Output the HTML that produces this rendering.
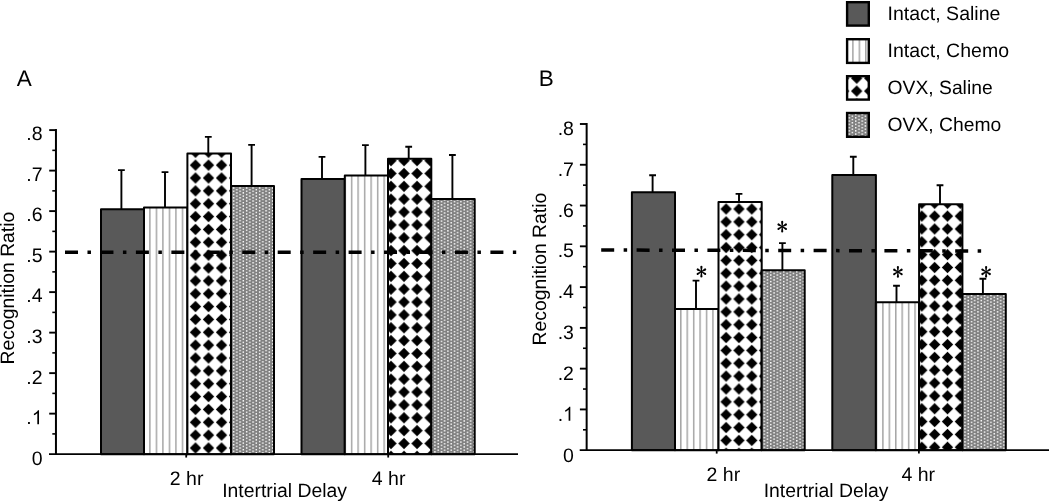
<!DOCTYPE html>
<html><head><meta charset="utf-8"><title>Recognition Ratio</title>
<style>html,body{margin:0;padding:0;background:#fff;}svg{display:block;}text{font-family:"Liberation Sans",sans-serif;fill:#000;text-rendering:geometricPrecision;}.t{font-size:19.5px;}.ab{font-size:22.5px;}.ti{font-size:19.35px;}.ast{font-family:"Liberation Serif",serif;}</style></head><body>
<svg width="1050" height="503" viewBox="0 0 1050 503">
<rect x="0" y="0" width="1050" height="503" fill="#fff"/>
<defs><pattern id="p1" patternUnits="userSpaceOnUse" x="149.15" y="0" width="6.510" height="20"><rect x="0" y="0" width="6.510" height="20" fill="#fff"/><rect x="0" y="0" width="1.5" height="20" fill="#a6a6a6"/></pattern><pattern id="p2" patternUnits="userSpaceOnUse" x="188.99" y="145.87" width="13.030" height="12.857"><rect x="0" y="0" width="13.030" height="12.857" fill="#fff"/><polygon points="6.51,0.83 12.21,6.43 6.51,12.03 0.81,6.43" fill="#000"/></pattern><pattern id="p3" patternUnits="userSpaceOnUse" x="232.88" y="187.28" width="6.500" height="3.250"><rect x="0" y="0" width="6.500" height="3.250" fill="#808080"/><rect x="0" y="0" width="1.45" height="1.45" fill="#fff"/><rect x="3.250" y="1.625" width="1.45" height="1.45" fill="#fff"/></pattern><pattern id="p4" patternUnits="userSpaceOnUse" x="350.85" y="0" width="6.510" height="20"><rect x="0" y="0" width="6.510" height="20" fill="#fff"/><rect x="0" y="0" width="1.5" height="20" fill="#a6a6a6"/></pattern><pattern id="p5" patternUnits="userSpaceOnUse" x="384.49" y="154.22" width="13.030" height="12.857"><rect x="0" y="0" width="13.030" height="12.857" fill="#fff"/><polygon points="6.51,0.83 12.21,6.43 6.51,12.03 0.81,6.43" fill="#000"/></pattern><pattern id="p6" patternUnits="userSpaceOnUse" x="434.22" y="200.88" width="6.500" height="3.250"><rect x="0" y="0" width="6.500" height="3.250" fill="#808080"/><rect x="0" y="0" width="1.45" height="1.45" fill="#fff"/><rect x="3.250" y="1.625" width="1.45" height="1.45" fill="#fff"/></pattern><pattern id="p7" patternUnits="userSpaceOnUse" x="680.05" y="0" width="6.430" height="20"><rect x="0" y="0" width="6.430" height="20" fill="#fff"/><rect x="0" y="0" width="1.5" height="20" fill="#a6a6a6"/></pattern><pattern id="p8" patternUnits="userSpaceOnUse" x="719.68" y="202.57" width="12.850" height="12.857"><rect x="0" y="0" width="12.850" height="12.857" fill="#fff"/><polygon points="6.42,0.83 12.12,6.43 6.42,12.03 0.72,6.43" fill="#000"/></pattern><pattern id="p9" patternUnits="userSpaceOnUse" x="763.57" y="271.07" width="6.500" height="3.250"><rect x="0" y="0" width="6.500" height="3.250" fill="#808080"/><rect x="0" y="0" width="1.45" height="1.45" fill="#fff"/><rect x="3.250" y="1.625" width="1.45" height="1.45" fill="#fff"/></pattern><pattern id="p10" patternUnits="userSpaceOnUse" x="882.15" y="0" width="6.430" height="20"><rect x="0" y="0" width="6.430" height="20" fill="#fff"/><rect x="0" y="0" width="1.5" height="20" fill="#a6a6a6"/></pattern><pattern id="p11" patternUnits="userSpaceOnUse" x="915.38" y="196.88" width="12.850" height="12.840"><rect x="0" y="0" width="12.850" height="12.840" fill="#fff"/><polygon points="6.42,0.82 12.12,6.42 6.42,12.02 0.72,6.42" fill="#000"/></pattern><pattern id="p12" patternUnits="userSpaceOnUse" x="964.27" y="294.88" width="6.500" height="3.250"><rect x="0" y="0" width="6.500" height="3.250" fill="#808080"/><rect x="0" y="0" width="1.45" height="1.45" fill="#fff"/><rect x="3.250" y="1.625" width="1.45" height="1.45" fill="#fff"/></pattern><pattern id="p13" patternUnits="userSpaceOnUse" x="852.15" y="0" width="6.450" height="20"><rect x="0" y="0" width="6.450" height="20" fill="#fff"/><rect x="0" y="0" width="1.5" height="20" fill="#a6a6a6"/></pattern><pattern id="p14" patternUnits="userSpaceOnUse" x="850.19" y="84.65" width="13.030" height="12.900"><rect x="0" y="0" width="13.030" height="12.900" fill="#fff"/><polygon points="6.51,0.85 12.21,6.45 6.51,12.05 0.81,6.45" fill="#000"/></pattern><pattern id="p15" patternUnits="userSpaceOnUse" x="848.48" y="113.88" width="6.500" height="3.250"><rect x="0" y="0" width="6.500" height="3.250" fill="#808080"/><rect x="0" y="0" width="1.45" height="1.45" fill="#fff"/><rect x="3.250" y="1.625" width="1.45" height="1.45" fill="#fff"/></pattern></defs>
<g opacity="0.999">
<rect x="101.00" y="209.20" width="43.00" height="244.95" fill="#595959" stroke="#000" stroke-width="2.00" stroke-linejoin="round"/>
<rect x="144.00" y="207.60" width="43.40" height="246.55" fill="url(#p1)" stroke="#000" stroke-width="2.00" stroke-linejoin="round"/>
<rect x="187.40" y="153.60" width="43.60" height="300.55" fill="url(#p2)" stroke="#000" stroke-width="2.00" stroke-linejoin="round"/>
<rect x="231.00" y="186.00" width="43.00" height="268.15" fill="url(#p3)" stroke="#000" stroke-width="2.00" stroke-linejoin="round"/>
<rect x="301.50" y="179.10" width="43.30" height="275.05" fill="#595959" stroke="#000" stroke-width="2.00" stroke-linejoin="round"/>
<rect x="344.80" y="175.60" width="43.20" height="278.55" fill="url(#p4)" stroke="#000" stroke-width="2.00" stroke-linejoin="round"/>
<rect x="388.00" y="158.70" width="43.30" height="295.45" fill="url(#p5)" stroke="#000" stroke-width="2.00" stroke-linejoin="round"/>
<rect x="431.30" y="199.00" width="43.40" height="255.15" fill="url(#p6)" stroke="#000" stroke-width="2.00" stroke-linejoin="round"/>
<line x1="65.00" y1="252.20" x2="516.20" y2="252.20" stroke="#000" stroke-width="3.5" stroke-dasharray="13 9.475 3.5 9.475"/>
<path d="M121.40 209.20 V170.10 M118.00 170.10 H124.80" stroke="#000" stroke-width="1.90" fill="none"/>
<path d="M165.00 207.60 V172.10 M161.60 172.10 H168.40" stroke="#000" stroke-width="1.90" fill="none"/>
<path d="M208.30 153.60 V136.90 M204.90 136.90 H211.70" stroke="#000" stroke-width="1.90" fill="none"/>
<path d="M251.60 186.00 V144.90 M248.20 144.90 H255.00" stroke="#000" stroke-width="1.90" fill="none"/>
<path d="M322.00 179.10 V156.90 M318.60 156.90 H325.40" stroke="#000" stroke-width="1.90" fill="none"/>
<path d="M365.40 175.60 V145.10 M362.00 145.10 H368.80" stroke="#000" stroke-width="1.90" fill="none"/>
<path d="M408.70 158.70 V146.80 M405.30 146.80 H412.10" stroke="#000" stroke-width="1.90" fill="none"/>
<path d="M452.40 199.00 V155.00 M449.00 155.00 H455.80" stroke="#000" stroke-width="1.90" fill="none"/>
<path d="M55.95 129.10 V455.05" stroke="#000" stroke-width="2.0" fill="none"/>
<path d="M49.00 454.15 H518.00" stroke="#000" stroke-width="1.8" fill="none"/>
<text class="t" x="42.60" y="464.75" text-anchor="end">0</text>
<path d="M52.30 433.90 H56.00" stroke="#000" stroke-width="1.6"/>
<path d="M49.20 413.64 H56.00" stroke="#000" stroke-width="1.9"/>
<text class="t" x="31.76" y="424.18" text-anchor="end">.</text>
<path transform="translate(31.76 424.18) scale(0.00952 -0.00952)" fill="#000" d="M763 0H583V1147Q518 1085 412.5 1023Q307 961 223 930V1104Q374 1175 487 1276Q600 1377 647 1472H763Z"/>
<path d="M52.30 393.39 H56.00" stroke="#000" stroke-width="1.6"/>
<path d="M49.20 373.14 H56.00" stroke="#000" stroke-width="1.9"/>
<text class="t" x="42.60" y="383.62" text-anchor="end">.2</text>
<path d="M52.30 352.88 H56.00" stroke="#000" stroke-width="1.6"/>
<path d="M49.20 332.63 H56.00" stroke="#000" stroke-width="1.9"/>
<text class="t" x="42.60" y="343.05" text-anchor="end">.3</text>
<path d="M52.30 312.38 H56.00" stroke="#000" stroke-width="1.6"/>
<path d="M49.20 292.12 H56.00" stroke="#000" stroke-width="1.9"/>
<text class="t" x="42.60" y="302.49" text-anchor="end">.4</text>
<path d="M52.30 271.87 H56.00" stroke="#000" stroke-width="1.6"/>
<path d="M49.20 251.62 H56.00" stroke="#000" stroke-width="1.9"/>
<text class="t" x="42.60" y="261.92" text-anchor="end">.5</text>
<path d="M52.30 231.37 H56.00" stroke="#000" stroke-width="1.6"/>
<path d="M49.20 211.11 H56.00" stroke="#000" stroke-width="1.9"/>
<text class="t" x="42.60" y="221.35" text-anchor="end">.6</text>
<path d="M52.30 190.86 H56.00" stroke="#000" stroke-width="1.6"/>
<path d="M49.20 170.61 H56.00" stroke="#000" stroke-width="1.9"/>
<text class="t" x="42.60" y="180.79" text-anchor="end">.7</text>
<path d="M52.30 150.35 H56.00" stroke="#000" stroke-width="1.6"/>
<path d="M49.20 130.10 H56.00" stroke="#000" stroke-width="1.9"/>
<text class="t" x="42.60" y="140.22" text-anchor="end">.8</text>
<path d="M186.20 454.15 V457.55" stroke="#000" stroke-width="1.8"/>
<text class="t" x="186.60" y="485.20" text-anchor="middle">2 hr</text>
<path d="M388.20 454.15 V457.55" stroke="#000" stroke-width="1.8"/>
<text class="t" x="388.60" y="485.20" text-anchor="middle">4 hr</text>
<text class="ti" transform="translate(14.40 364.40) rotate(-90)">Recognition Ratio</text>
<text class="ab" x="16.80" y="86.00" text-anchor="start">A</text>
<text class="ti" x="284.60" y="497.40" text-anchor="middle">Intertrial Delay</text>
<rect x="631.90" y="192.30" width="43.10" height="257.90" fill="#595959" stroke="#000" stroke-width="2.00" stroke-linejoin="round"/>
<rect x="675.00" y="308.90" width="43.50" height="141.30" fill="url(#p7)" stroke="#000" stroke-width="2.00" stroke-linejoin="round"/>
<rect x="718.50" y="202.00" width="43.20" height="248.20" fill="url(#p8)" stroke="#000" stroke-width="2.00" stroke-linejoin="round"/>
<rect x="761.70" y="270.20" width="43.00" height="180.00" fill="url(#p9)" stroke="#000" stroke-width="2.00" stroke-linejoin="round"/>
<rect x="832.30" y="175.00" width="43.60" height="275.20" fill="#595959" stroke="#000" stroke-width="2.00" stroke-linejoin="round"/>
<rect x="875.90" y="302.20" width="43.20" height="148.00" fill="url(#p10)" stroke="#000" stroke-width="2.00" stroke-linejoin="round"/>
<rect x="919.10" y="204.30" width="43.30" height="245.90" fill="url(#p11)" stroke="#000" stroke-width="2.00" stroke-linejoin="round"/>
<rect x="962.40" y="294.00" width="43.40" height="156.20" fill="url(#p12)" stroke="#000" stroke-width="2.00" stroke-linejoin="round"/>
<line x1="601.20" y1="250.00" x2="981.90" y2="251.00" stroke="#000" stroke-width="3.5" stroke-dasharray="13 9.450 3.5 9.450"/>
<path d="M652.60 192.30 V175.20 M649.20 175.20 H656.00" stroke="#000" stroke-width="1.90" fill="none"/>
<path d="M696.00 308.90 V280.60 M692.60 280.60 H699.40" stroke="#000" stroke-width="1.90" fill="none"/>
<path d="M739.00 202.00 V193.90 M735.60 193.90 H742.40" stroke="#000" stroke-width="1.90" fill="none"/>
<path d="M782.40 270.20 V243.10 M779.00 243.10 H785.80" stroke="#000" stroke-width="1.90" fill="none"/>
<path d="M853.30 175.00 V156.70 M849.90 156.70 H856.70" stroke="#000" stroke-width="1.90" fill="none"/>
<path d="M896.50 302.20 V285.80 M893.10 285.80 H899.90" stroke="#000" stroke-width="1.90" fill="none"/>
<path d="M940.00 204.30 V185.20 M936.60 185.20 H943.40" stroke="#000" stroke-width="1.90" fill="none"/>
<path d="M982.90 294.00 V278.70 M979.50 278.70 H986.30" stroke="#000" stroke-width="1.90" fill="none"/>
<path d="M586.65 123.00 V451.10" stroke="#000" stroke-width="2.0" fill="none"/>
<path d="M579.70 450.20 H1049.00" stroke="#000" stroke-width="1.8" fill="none"/>
<text class="t" x="573.90" y="461.50" text-anchor="end">0</text>
<path d="M583.00 429.81 H586.70" stroke="#000" stroke-width="1.6"/>
<path d="M579.90 409.43 H586.70" stroke="#000" stroke-width="1.9"/>
<text class="t" x="563.06" y="420.68" text-anchor="end">.</text>
<path transform="translate(563.06 420.68) scale(0.00952 -0.00952)" fill="#000" d="M763 0H583V1147Q518 1085 412.5 1023Q307 961 223 930V1104Q374 1175 487 1276Q600 1377 647 1472H763Z"/>
<path d="M583.00 389.04 H586.70" stroke="#000" stroke-width="1.6"/>
<path d="M579.90 368.65 H586.70" stroke="#000" stroke-width="1.9"/>
<text class="t" x="573.90" y="379.85" text-anchor="end">.2</text>
<path d="M583.00 348.26 H586.70" stroke="#000" stroke-width="1.6"/>
<path d="M579.90 327.88 H586.70" stroke="#000" stroke-width="1.9"/>
<text class="t" x="573.90" y="339.03" text-anchor="end">.3</text>
<path d="M583.00 307.49 H586.70" stroke="#000" stroke-width="1.6"/>
<path d="M579.90 287.10 H586.70" stroke="#000" stroke-width="1.9"/>
<text class="t" x="573.90" y="298.20" text-anchor="end">.4</text>
<path d="M583.00 266.71 H586.70" stroke="#000" stroke-width="1.6"/>
<path d="M579.90 246.32 H586.70" stroke="#000" stroke-width="1.9"/>
<text class="t" x="573.90" y="257.38" text-anchor="end">.5</text>
<path d="M583.00 225.94 H586.70" stroke="#000" stroke-width="1.6"/>
<path d="M579.90 205.55 H586.70" stroke="#000" stroke-width="1.9"/>
<text class="t" x="573.90" y="216.55" text-anchor="end">.6</text>
<path d="M583.00 185.16 H586.70" stroke="#000" stroke-width="1.6"/>
<path d="M579.90 164.77 H586.70" stroke="#000" stroke-width="1.9"/>
<text class="t" x="573.90" y="175.72" text-anchor="end">.7</text>
<path d="M583.00 144.39 H586.70" stroke="#000" stroke-width="1.6"/>
<path d="M579.90 124.00 H586.70" stroke="#000" stroke-width="1.9"/>
<text class="t" x="573.90" y="134.90" text-anchor="end">.8</text>
<path d="M716.70 450.20 V453.60" stroke="#000" stroke-width="1.8"/>
<text class="t" x="723.40" y="481.20" text-anchor="middle">2 hr</text>
<path d="M918.90 450.20 V453.60" stroke="#000" stroke-width="1.8"/>
<text class="t" x="918.20" y="481.20" text-anchor="middle">4 hr</text>
<text class="ti" transform="translate(545.80 345.50) rotate(-90)">Recognition Ratio</text>
<text class="ab" x="538.70" y="86.00" text-anchor="start">B</text>
<text class="ti" x="826.10" y="497.20" text-anchor="middle">Intertrial Delay</text>
<path transform="translate(701.40 271.70) rotate(0.00)" d="M-0.42 0 L0.42 0 L1.08 4.82 A1.08 1.08 0 1 1 -1.08 4.82 Z" fill="#000"/><path transform="translate(701.40 271.70) rotate(180.00)" d="M-0.42 0 L0.42 0 L1.08 4.82 A1.08 1.08 0 1 1 -1.08 4.82 Z" fill="#000"/><path transform="translate(701.40 271.70) rotate(59.50)" d="M-0.42 0 L0.42 0 L1.08 4.32 A1.08 1.08 0 1 1 -1.08 4.32 Z" fill="#000"/><path transform="translate(701.40 271.70) rotate(-59.50)" d="M-0.42 0 L0.42 0 L1.08 4.32 A1.08 1.08 0 1 1 -1.08 4.32 Z" fill="#000"/><path transform="translate(701.40 271.70) rotate(120.50)" d="M-0.42 0 L0.42 0 L1.08 4.32 A1.08 1.08 0 1 1 -1.08 4.32 Z" fill="#000"/><path transform="translate(701.40 271.70) rotate(-120.50)" d="M-0.42 0 L0.42 0 L1.08 4.32 A1.08 1.08 0 1 1 -1.08 4.32 Z" fill="#000"/><circle cx="701.40" cy="271.70" r="0.95" fill="#000"/>
<path transform="translate(782.20 226.70) rotate(0.00)" d="M-0.42 0 L0.42 0 L1.08 4.82 A1.08 1.08 0 1 1 -1.08 4.82 Z" fill="#000"/><path transform="translate(782.20 226.70) rotate(180.00)" d="M-0.42 0 L0.42 0 L1.08 4.82 A1.08 1.08 0 1 1 -1.08 4.82 Z" fill="#000"/><path transform="translate(782.20 226.70) rotate(59.50)" d="M-0.42 0 L0.42 0 L1.08 4.32 A1.08 1.08 0 1 1 -1.08 4.32 Z" fill="#000"/><path transform="translate(782.20 226.70) rotate(-59.50)" d="M-0.42 0 L0.42 0 L1.08 4.32 A1.08 1.08 0 1 1 -1.08 4.32 Z" fill="#000"/><path transform="translate(782.20 226.70) rotate(120.50)" d="M-0.42 0 L0.42 0 L1.08 4.32 A1.08 1.08 0 1 1 -1.08 4.32 Z" fill="#000"/><path transform="translate(782.20 226.70) rotate(-120.50)" d="M-0.42 0 L0.42 0 L1.08 4.32 A1.08 1.08 0 1 1 -1.08 4.32 Z" fill="#000"/><circle cx="782.20" cy="226.70" r="0.95" fill="#000"/>
<path transform="translate(897.90 271.90) rotate(0.00)" d="M-0.42 0 L0.42 0 L1.08 4.82 A1.08 1.08 0 1 1 -1.08 4.82 Z" fill="#000"/><path transform="translate(897.90 271.90) rotate(180.00)" d="M-0.42 0 L0.42 0 L1.08 4.82 A1.08 1.08 0 1 1 -1.08 4.82 Z" fill="#000"/><path transform="translate(897.90 271.90) rotate(59.50)" d="M-0.42 0 L0.42 0 L1.08 4.32 A1.08 1.08 0 1 1 -1.08 4.32 Z" fill="#000"/><path transform="translate(897.90 271.90) rotate(-59.50)" d="M-0.42 0 L0.42 0 L1.08 4.32 A1.08 1.08 0 1 1 -1.08 4.32 Z" fill="#000"/><path transform="translate(897.90 271.90) rotate(120.50)" d="M-0.42 0 L0.42 0 L1.08 4.32 A1.08 1.08 0 1 1 -1.08 4.32 Z" fill="#000"/><path transform="translate(897.90 271.90) rotate(-120.50)" d="M-0.42 0 L0.42 0 L1.08 4.32 A1.08 1.08 0 1 1 -1.08 4.32 Z" fill="#000"/><circle cx="897.90" cy="271.90" r="0.95" fill="#000"/>
<path transform="translate(986.10 271.80) rotate(0.00)" d="M-0.42 0 L0.42 0 L1.08 4.82 A1.08 1.08 0 1 1 -1.08 4.82 Z" fill="#000"/><path transform="translate(986.10 271.80) rotate(180.00)" d="M-0.42 0 L0.42 0 L1.08 4.82 A1.08 1.08 0 1 1 -1.08 4.82 Z" fill="#000"/><path transform="translate(986.10 271.80) rotate(59.50)" d="M-0.42 0 L0.42 0 L1.08 4.32 A1.08 1.08 0 1 1 -1.08 4.32 Z" fill="#000"/><path transform="translate(986.10 271.80) rotate(-59.50)" d="M-0.42 0 L0.42 0 L1.08 4.32 A1.08 1.08 0 1 1 -1.08 4.32 Z" fill="#000"/><path transform="translate(986.10 271.80) rotate(120.50)" d="M-0.42 0 L0.42 0 L1.08 4.32 A1.08 1.08 0 1 1 -1.08 4.32 Z" fill="#000"/><path transform="translate(986.10 271.80) rotate(-120.50)" d="M-0.42 0 L0.42 0 L1.08 4.32 A1.08 1.08 0 1 1 -1.08 4.32 Z" fill="#000"/><circle cx="986.10" cy="271.80" r="0.95" fill="#000"/>
<rect x="847.10" y="2.20" width="21.70" height="23.40" fill="#595959" stroke="#000" stroke-width="2.40"/>
<text class="t" x="887.60" y="20.40" style="font-size:19.5px">Intact, Saline</text>
<rect x="847.10" y="39.20" width="21.70" height="23.70" fill="url(#p13)" stroke="#000" stroke-width="2.40"/>
<text class="t" x="887.60" y="57.20" style="font-size:19.5px">Intact, Chemo</text>
<rect x="847.10" y="76.20" width="21.70" height="23.40" fill="url(#p14)" stroke="#000" stroke-width="2.40"/>
<text class="t" x="887.60" y="94.20" style="font-size:19.3px">OVX, Saline</text>
<rect x="847.10" y="113.00" width="21.70" height="23.80" fill="url(#p15)" stroke="#000" stroke-width="2.40"/>
<text class="t" x="887.60" y="131.10" style="font-size:19.3px">OVX, Chemo</text>
</g>
</svg></body></html>
